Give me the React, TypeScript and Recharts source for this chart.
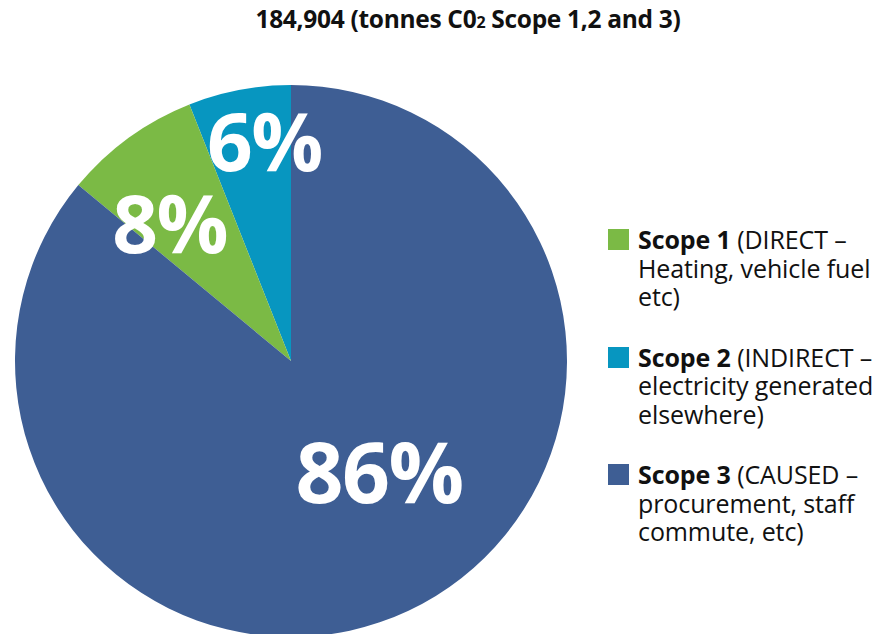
import React from "react";
import { PieChart, Pie, Cell, Legend } from "recharts";

const scopeNames = ["Scope 2", "Scope 1", "Scope 3"];
const scopeValues = [6, 8, 86];
const scopeColors = ["#0796C0", "#7BBA45", "#3E5E94"];

const legendNames = ["Scope 1", "Scope 2", "Scope 3"];
const legendDetail = [
  ["(DIRECT –", "Heating, vehicle fuel", "etc)"],
  ["(INDIRECT –", "electricity generated", "elsewhere)"],
  ["(CAUSED –", "procurement, staff", "commute, etc)"],
];
const legendColors = ["#7BBA45", "#0796C0", "#3E5E94"];

const titleText = "184,904 (tonnes C0";
const titleSub = "2";
const titleRest = " Scope 1,2 and 3)";

const data = scopeNames.map((n, i) => ({ name: n, value: scopeValues[i] }));

const FONT = "'Open Sans', Lato, sans-serif";

// label placement tweaks (radius fraction, angle shift in degrees, font size)
const labelPlacement = [
  { r: 0.81, shift: -4, size: 80 },
  { r: 0.67, shift: 5, size: 80 },
  { r: 0.51, shift: 13.5, size: 84 },
];

const RAD = Math.PI / 180;

const renderLabel = (props: any) => {
  const { cx, cy, midAngle, outerRadius, index, value } = props;
  const p = labelPlacement[index];
  const a = (midAngle + p.shift) * RAD;
  const r = outerRadius * p.r;
  const x = cx + r * Math.cos(a);
  const y = cy - r * Math.sin(a);
  return (
    <text
      x={x}
      y={y}
      fill="#ffffff"
      textAnchor="middle"
      dominantBaseline="central"
      fontFamily={FONT}
      fontWeight={700}
      fontSize={p.size}
      letterSpacing={-1.5}
    >
      {value}%
    </text>
  );
};

const renderLegend = () => (
  <div style={{ fontFamily: FONT, color: "#111", fontSize: 25 }}>
    {legendNames.map((n, i) => (
      <div key={n} style={{ display: "flex", marginBottom: 32 }}>
        <div
          style={{
            width: 21,
            height: 21,
            background: legendColors[i],
            marginTop: 4,
            marginRight: 9,
            flex: "none",
          }}
        />
        <div style={{ lineHeight: "28.5px", whiteSpace: "nowrap", letterSpacing: -0.1 }}>
          <div>
            <b>{n}</b> {legendDetail[i][0]}
          </div>
          <div>{legendDetail[i][1]}</div>
          <div>{legendDetail[i][2]}</div>
        </div>
      </div>
    ))}
  </div>
);

export default function App() {
  return (
    <div style={{ position: "absolute", left: 0, top: 0, width: 881, height: 634, background: "#fff", overflow: "hidden" }}>
      <div
        style={{
          position: "absolute",
          left: 0,
          width: 936,
          top: 2,
          textAlign: "center",
          fontFamily: FONT,
          fontWeight: 700,
          fontSize: 24.5,
          letterSpacing: -0.3,
          color: "#111",
          zIndex: 2,
        }}
      >
        {titleText}
        <span style={{ fontSize: 16 }}>{titleSub}</span>
        {titleRest}
      </div>
      <PieChart width={881} height={640} margin={{ top: 0, right: 0, bottom: 0, left: 0 }}>
        <Pie
          data={data}
          dataKey="value"
          nameKey="name"
          cx={291}
          cy={361}
          outerRadius={276}
          startAngle={90}
          endAngle={450}
          stroke="none"
          label={renderLabel}
          labelLine={false}
          isAnimationActive={false}
        >
          {data.map((d, i) => (
            <Cell key={d.name} fill={scopeColors[i]} />
          ))}
        </Pie>
        <Legend
          content={renderLegend}
          wrapperStyle={{ position: "absolute", left: 608, top: 225, width: 273 }}
        />
      </PieChart>
    </div>
  );
}
